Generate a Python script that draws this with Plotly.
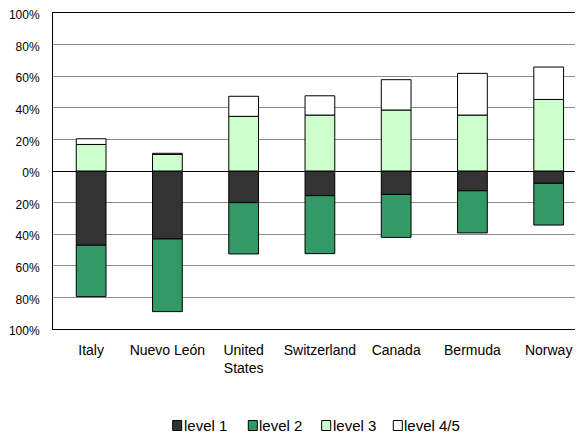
import plotly.graph_objects as go

categories = ["Italy", "Nuevo León", "United<br>States", "Switzerland", "Canada", "Bermuda", "Norway"]
level1 = [47, 43, 20, 15.6, 14.8, 12.5, 7.8]
level2 = [32.5, 46, 32.5, 36.7, 27.2, 26.7, 26.4]
level3 = [16.8, 10.5, 34.6, 35.4, 38.6, 35.4, 45.3]
level45 = [3.6, 0.7, 12.7, 12.2, 19.2, 26.4, 20.5]

series_names = ["level 1", "level 2", "level 3", "level 4/5"]
series_colors = ["#333333", "#339966", "#CCFFCC", "#FFFFFF"]

tick_vals = [-100, -80, -60, -40, -20, 0, 20, 40, 60, 80, 100]
tick_text = ["100%", "80%", "60%", "40%", "20%", "0%", "20%", "40%", "60%", "80%", "100%"]

FONT = "Liberation Sans, Arial, sans-serif"
line = dict(color="#000000", width=1)

# the page body has an 8px margin; size the figure so it fills the window
OFF = 8
W, H = 583 - OFF, 435 - OFF
ML, MR, MT = 53 - OFF, 0, 13 - OFF
PH = 316
MB = H - MT - PH
PW = W - ML - MR

fig = go.Figure()
fig.add_bar(x=categories, y=[-v for v in level1], name=series_names[0],
            marker=dict(color=series_colors[0], line=line), customdata=level1,
            hovertemplate="%{x}: %{customdata}%<extra>level 1</extra>")
fig.add_bar(x=categories, y=[-v for v in level2], name=series_names[1],
            marker=dict(color=series_colors[1], line=line), customdata=level2,
            hovertemplate="%{x}: %{customdata}%<extra>level 2</extra>")
fig.add_bar(x=categories, y=level3, name=series_names[2],
            marker=dict(color=series_colors[2], line=line))
fig.add_bar(x=categories, y=level45, name=series_names[3],
            marker=dict(color=series_colors[3], line=line))

# legend drawn as a row of squares + labels (screen pixels -> paper)
def px_x(p):
    return (p - OFF - ML) / PW

def px_y(p):
    return (H - MB - (p - OFF)) / PH

legend_sq_left = [172.7, 248.3, 321.7, 393.3]
legend_cy = 425.5
shapes = []
annotations = []
for name, color, sx in zip(series_names, series_colors, legend_sq_left):
    shapes.append(dict(type="rect", xref="paper", yref="paper",
                       x0=px_x(sx), x1=px_x(sx + 9),
                       y0=px_y(legend_cy + 5), y1=px_y(legend_cy - 5),
                       fillcolor=color, line=dict(color="#000000", width=1)))
    annotations.append(dict(text=name, xref="paper", yref="paper",
                            x=px_x(sx + 9), y=px_y(legend_cy),
                            xanchor="left", yanchor="middle", showarrow=False,
                            font=dict(size=15, family=FONT, color="#000000")))

fig.update_layout(
    width=W, height=H,
    barmode="relative",
    bargap=0.61,
    plot_bgcolor="#FFFFFF",
    paper_bgcolor="#FFFFFF",
    margin=dict(l=ML, r=MR, t=MT, b=MB, autoexpand=False),
    font=dict(family=FONT, size=13, color="#000000"),
    showlegend=False,
    shapes=shapes,
    annotations=annotations,
    xaxis=dict(range=[-0.5, 6.45], showline=True, linecolor="#000000", linewidth=1,
               mirror=True, ticks="", showgrid=False, ticklabelstandoff=8,
               tickfont=dict(size=14), automargin=False),
    yaxis=dict(range=[-100, 100], tickvals=tick_vals, ticktext=tick_text,
               showline=True, linecolor="#000000", linewidth=1, mirror=False,
               showgrid=True, gridcolor="#8C8C8C", gridwidth=1,
               zeroline=True, zerolinecolor="#000000", zerolinewidth=1,
               ticks="", tickfont=dict(size=12), ticklabelstandoff=10,
               ticklabelshift=2, ticklabeloverflow="allow", automargin=False),
)

fig.write_html("out.html")
